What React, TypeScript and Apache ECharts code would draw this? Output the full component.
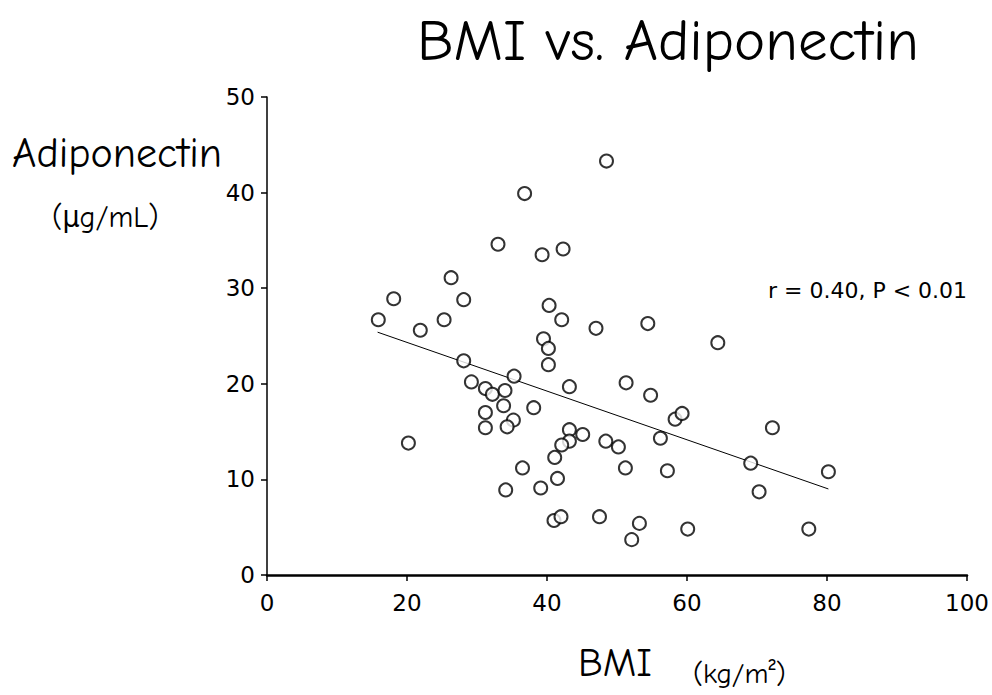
import React, { useEffect, useRef } from "react";
import * as echarts from "echarts";

const bmi = [
  48.5, 36.8, 33.0, 39.3, 42.3, 26.3, 18.1, 28.1, 15.9, 25.3, 21.9, 40.3, 42.1, 47.0, 39.5,
  40.2, 40.2, 28.1, 29.2, 35.3, 43.2, 31.2, 32.2, 34.0, 33.8, 38.1, 31.2, 31.2, 35.2, 34.3,
  20.2, 43.2, 45.1, 43.2, 42.1, 41.1, 48.4, 50.2, 36.5, 41.5, 34.1, 39.1, 41.0, 42.0, 47.5,
  64.4, 51.3, 54.8, 58.3, 59.3, 72.2, 56.2, 51.2, 57.2, 69.1, 80.2, 70.3, 53.2, 52.1, 60.1,
  77.4, 54.4,
];
const adiponectin = [
  43.3, 39.9, 34.6, 33.5, 34.1, 31.1, 28.9, 28.8, 26.7, 26.7, 25.6, 28.2, 26.7, 25.8, 24.7,
  23.7, 22.0, 22.4, 20.2, 20.8, 19.7, 19.5, 18.9, 19.3, 17.7, 17.5, 17.0, 15.4, 16.2, 15.5,
  13.8, 15.2, 14.7, 14.0, 13.6, 12.3, 14.0, 13.4, 11.2, 10.1, 8.9, 9.1, 5.7, 6.1, 6.1,
  24.3, 20.1, 18.8, 16.3, 16.9, 15.4, 14.3, 11.2, 10.9, 11.7, 10.8, 8.7, 5.4, 3.7, 4.8,
  4.8, 26.3,
];
const fitX = [15.8, 80.2];
const fitY = [25.4, 9.0];
const xTicks = [0, 20, 40, 60, 80, 100];
const yTicks = [0, 10, 20, 30, 40, 50];

const titleText = "BMI vs. Adiponectin";
const yLabel = "Adiponectin";
const yUnit = "(μg/mL)";
const xLabel = "BMI";
const xUnit = "(kg/m²)";
const statText = "r = 0.40, P < 0.01";

export default function App() {
  const ref = useRef<HTMLDivElement>(null);
  useEffect(() => {
    if (!ref.current) return;
    const chart = echarts.init(ref.current, null, { renderer: "svg" });
    const handFont = "'Comic Sans MS', 'Comic Neue', 'Liberation Sans Narrow', 'DejaVu Sans Condensed', sans-serif";
    const tickFont = "'DejaVu Sans', 'Open Sans', sans-serif";
    chart.setOption({
      animation: false,
      backgroundColor: "#ffffff",
      grid: { left: 267, right: 25, top: 97, bottom: 120, containLabel: false },
      xAxis: {
        type: "value",
        min: xTicks[0],
        max: xTicks[xTicks.length - 1],
        interval: 20,
        axisLine: { show: true, lineStyle: { color: "#000", width: 2.5 } },
        axisTick: { show: true, length: 6, inside: false, lineStyle: { color: "#000", width: 1.5 } },
        splitLine: { show: false },
        axisLabel: { color: "#000", fontSize: 23, fontFamily: tickFont, margin: 16 },
      },
      yAxis: {
        type: "value",
        min: yTicks[0],
        max: yTicks[yTicks.length - 1],
        interval: 10,
        axisLine: { show: true, lineStyle: { color: "#000", width: 1.5 } },
        axisTick: { show: true, length: 6, inside: false, lineStyle: { color: "#000", width: 1.5 } },
        splitLine: { show: false },
        axisLabel: { color: "#000", fontSize: 23, fontFamily: tickFont, margin: 12 },
      },
      series: [
        {
          type: "line",
          data: fitX.map((x, i) => [x, fitY[i]]),
          showSymbol: false,
          symbol: "none",
          lineStyle: { color: "#000", width: 1 },
          z: 1,
        },
        {
          type: "scatter",
          data: bmi.map((x, i) => [x, adiponectin[i]]),
          symbol: "circle",
          symbolSize: 13,
          itemStyle: { color: "#fff", borderColor: "#000", borderWidth: 2 },
          z: 2,
        },
      ],
      graphic: [
        {
          type: "text",
          left: 417,
          top: 11,
          style: { text: titleText, font: `59px ${handFont}`, fill: "#000" },
        },
        {
          type: "text",
          left: 12,
          top: 132,
          style: { text: yLabel, font: `42px ${handFont}`, fill: "#000" },
        },
        {
          type: "text",
          left: 52,
          top: 202,
          style: { text: yUnit, font: `30px ${handFont}`, fill: "#000" },
        },
        {
          type: "text",
          left: 578,
          top: 643,
          style: { text: xLabel, font: `40px ${handFont}`, fill: "#000" },
        },
        {
          type: "text",
          left: 693,
          top: 659,
          style: { text: xUnit, font: `29px ${handFont}`, fill: "#000" },
        },
        {
          type: "text",
          left: 768,
          top: 279,
          style: { text: statText, font: `22px ${tickFont}`, fill: "#000" },
        },
      ],
    });
    return () => chart.dispose();
  }, []);
  return (
    <div
      ref={ref}
      style={{ position: "fixed", left: 0, top: 0, width: 992, height: 695, background: "#fff" }}
    />
  );
}
